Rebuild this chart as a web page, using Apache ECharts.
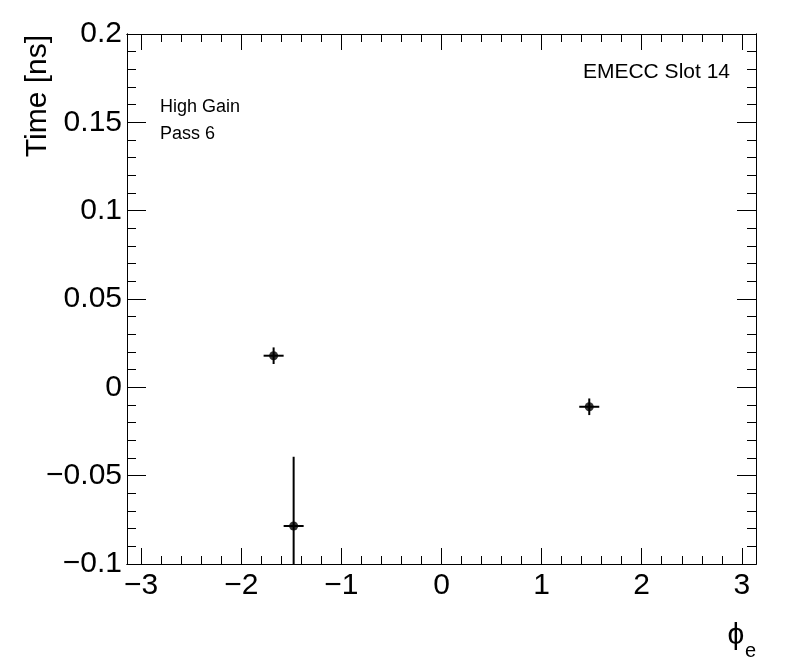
<!DOCTYPE html>
<html>
<head>
<meta charset="utf-8">
<script src="https://cdn.jsdelivr.net/npm/echarts@6/dist/echarts.min.js"></script>
<style>
  html, body { margin: 0; padding: 0; background: #fff; }
  #chart { width: 796px; height: 672px; }
</style>
</head>
<body>
<div id="chart"></div>
<script>
// ---- data ----
const xValues = [-1.677, -1.477, 1.476];
const yValues = [0.0179, -0.0785, -0.0110];
const xErrors = [0.1, 0.1, 0.1];
const yErrors = [0.0047, 0.0392, 0.0047];

// ---- axes ----
const xMin = -Math.PI, xMax = Math.PI;
const yMin = -0.1, yMax = 0.2;
const xTickValues = [-3, -2, -1, 0, 1, 2, 3];
const xTickLabels = ['\u22123', '\u22122', '\u22121', '0', '1', '2', '3'];
const yTickValues = [-0.1, -0.05, 0, 0.05, 0.1, 0.15, 0.2];
const yTickLabels = ['\u22120.1', '\u22120.05', '0', '0.05', '0.1', '0.15', '0.2'];

const xMinorValues = [];
for (let i = -15; i <= 15; i++) { if (i % 5 !== 0) xMinorValues.push(+(i * 0.2).toFixed(4)); }
const yMinorValues = [];
for (let i = -10; i <= 20; i++) { if (i % 5 !== 0) yMinorValues.push(+(i * 0.01).toFixed(4)); }

const FONT = "'Liberation Sans', Arial, Helvetica, sans-serif";

function lookup(vals, labels) {
  return function (v) {
    for (let i = 0; i < vals.length; i++) if (Math.abs(vals[i] - v) < 1e-9) return labels[i];
    return '';
  };
}

function xAxisDef(position, major, showLabel) {
  return {
    type: 'value', min: xMin, max: xMax, position: position, offset: 0,
    axisLine: { show: true, onZero: false, lineStyle: { color: '#000', width: 1 } },
    splitLine: { show: false },
    axisTick: { show: true, inside: true, length: major ? 16 : 8,
      customValues: major ? xTickValues : xMinorValues,
      lineStyle: { color: '#000', width: 1 } },
    axisLabel: { show: showLabel, customValues: xTickValues, margin: 7,
      formatter: lookup(xTickValues, xTickLabels),
      color: '#000', fontSize: 30, fontFamily: FONT }
  };
}
function yAxisDef(position, major, showLabel) {
  return {
    type: 'value', min: yMin, max: yMax, position: position, offset: 0,
    axisLine: { show: true, onZero: false, lineStyle: { color: '#000', width: 1 } },
    splitLine: { show: false },
    axisTick: { show: true, inside: true, length: major ? 19 : 9,
      customValues: major ? yTickValues : yMinorValues,
      lineStyle: { color: '#000', width: 1 } },
    axisLabel: { show: showLabel, customValues: yTickValues, margin: 5,
      formatter: lookup(yTickValues, yTickLabels),
      color: '#000', fontSize: 30, fontFamily: FONT }
  };
}

const points = xValues.map((x, i) => [x, yValues[i], xErrors[i], yErrors[i]]);

const chart = echarts.init(document.getElementById('chart'), null, { renderer: 'canvas' });
chart.setOption({
  backgroundColor: '#fff',
  animation: false,
  grid: { left: 127, right: 40, top: 34, bottom: 108, containLabel: false, outerBoundsMode: 'none' },
  xAxis: [
    xAxisDef('bottom', true, true),
    xAxisDef('bottom', false, false),
    xAxisDef('top', true, false),
    xAxisDef('top', false, false)
  ],
  yAxis: [
    yAxisDef('left', true, true),
    yAxisDef('left', false, false),
    yAxisDef('right', true, false),
    yAxisDef('right', false, false)
  ],
  series: [
    {
      type: 'custom',
      xAxisIndex: 0, yAxisIndex: 0,
      clip: true,
      data: points,
      renderItem: function (params, api) {
        const x = api.value(0), y = api.value(1), ex = api.value(2), ey = api.value(3);
        const clampY = v => Math.max(yMin, Math.min(yMax, v));
        const clampX = v => Math.max(xMin, Math.min(xMax, v));
        const l = api.coord([clampX(x - ex), y]);
        const r = api.coord([clampX(x + ex), y]);
        const t = api.coord([x, clampY(y + ey)]);
        const b = api.coord([x, clampY(y - ey)]);
        return {
          type: 'group',
          children: [
            { type: 'line', shape: { x1: l[0], y1: l[1], x2: r[0], y2: r[1] },
              style: { stroke: '#000', lineWidth: 2 } },
            { type: 'line', shape: { x1: t[0], y1: t[1], x2: b[0], y2: b[1] },
              style: { stroke: '#000', lineWidth: 2 } }
          ]
        };
      },
      z: 2
    },
    {
      type: 'scatter',
      xAxisIndex: 0, yAxisIndex: 0,
      data: points.map(p => [p[0], p[1]]),
      symbol: 'circle', symbolSize: 9,
      itemStyle: { color: '#000' },
      z: 3
    }
  ],
  graphic: [
    { type: 'text', x: 38, y: 35, rotation: Math.PI / 2,
      style: { text: 'Time [ns]', fill: '#000', font: '30px ' + FONT, align: 'right', verticalAlign: 'middle' } },
    { type: 'text', x: 736, y: 636,
      style: { text: '\u03d5', fill: '#000', font: '30px ' + FONT, align: 'center', verticalAlign: 'middle' } },
    { type: 'text', x: 745, y: 651,
      style: { text: 'e', fill: '#000', font: '20px ' + FONT, align: 'left', verticalAlign: 'middle' } },
    { type: 'text', x: 160, y: 107,
      style: { text: 'High Gain', fill: '#000', font: '18px ' + FONT, align: 'left', verticalAlign: 'middle' } },
    { type: 'text', x: 160, y: 134,
      style: { text: 'Pass 6', fill: '#000', font: '18px ' + FONT, align: 'left', verticalAlign: 'middle' } },
    { type: 'text', x: 730, y: 72,
      style: { text: 'EMECC Slot 14', fill: '#000', font: '21px ' + FONT, align: 'right', verticalAlign: 'middle' } }
  ]
});
</script>
</body>
</html>
